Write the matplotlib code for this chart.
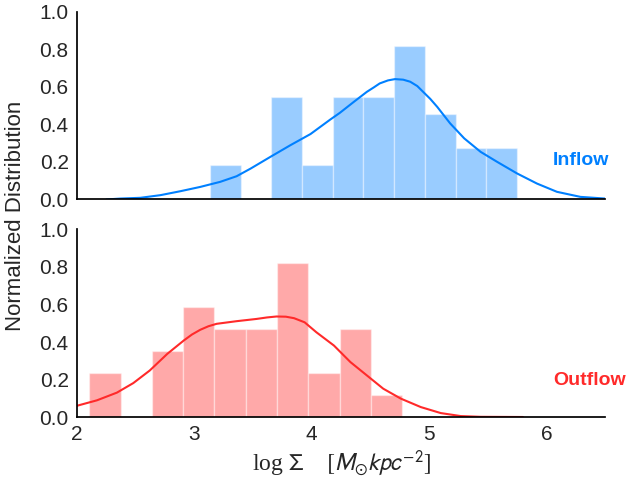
import numpy as np
import matplotlib.pyplot as plt
import seaborn as sns

sns.set_style('white')
plt.rcParams['font.family'] = ['Liberation Sans', 'DejaVu Sans']
plt.rcParams['mathtext.fontset'] = 'stixsans'

# histogram counts per bin and bin range (log surface density)
inflow_counts = [2, 0, 6, 2, 6, 6, 9, 5, 3, 3]
inflow_range = (3.134, 5.749)
outflow_counts = [2, 0, 3, 5, 4, 4, 7, 2, 4, 1]
outflow_range = (2.105, 4.772)

# kde curves as (x, density) pairs
inflow_kde_x = [2.25, 2.37, 2.54, 2.71, 2.88, 3.05, 3.22, 3.36, 3.48, 3.65,
                3.82, 3.99, 4.16, 4.24, 4.36, 4.47, 4.53, 4.58, 4.65, 4.71,
                4.78, 4.84, 4.90, 4.95, 5.01, 5.07, 5.18, 5.30, 5.44, 5.58,
                5.75, 5.92, 6.09, 6.29, 6.50]
inflow_kde_y = [0.0, 0.005, 0.009, 0.023, 0.044, 0.067, 0.094, 0.124, 0.165, 0.228,
                0.290, 0.349, 0.427, 0.462, 0.521, 0.574, 0.598, 0.619, 0.635, 0.642,
                0.639, 0.628, 0.605, 0.574, 0.537, 0.494, 0.406, 0.326, 0.254, 0.201,
                0.139, 0.085, 0.041, 0.014, 0.005]
outflow_kde_x = [2.0, 2.17, 2.34, 2.48, 2.62, 2.77, 2.91, 2.98, 3.05, 3.12,
                 3.19, 3.36, 3.53, 3.62, 3.70, 3.78, 3.85, 3.94, 4.04, 4.19,
                 4.33, 4.47, 4.61, 4.76, 4.93, 5.10, 5.27, 5.44, 5.80]
outflow_kde_y = [0.06, 0.089, 0.13, 0.181, 0.248, 0.337, 0.408, 0.440, 0.465, 0.484,
                 0.497, 0.511, 0.523, 0.531, 0.536, 0.535, 0.527, 0.505, 0.452, 0.381,
                 0.293, 0.222, 0.151, 0.098, 0.053, 0.021, 0.005, 0.001, 0.0]

blue = '#0080ff'
red = '#ff2a2a'

fig, (ax1, ax2) = plt.subplots(2, 1, figsize=(6.39, 4.91), dpi=100, sharex=True)
fig.subplots_adjust(left=0.1205, right=0.9468, top=0.9756, bottom=0.1507, hspace=0.16)


def draw_hist(ax, counts, rng, color):
    counts = np.array(counts, dtype=float)
    edges = np.linspace(rng[0], rng[1], len(counts) + 1)
    width = edges[1] - edges[0]
    heights = counts / (counts.sum() * width)
    ax.bar(edges[:-1], heights, width=width, align='edge', color=color,
           alpha=0.4, edgecolor='white', linewidth=1.0)


draw_hist(ax1, inflow_counts, inflow_range, blue)
ax1.plot(inflow_kde_x, inflow_kde_y, color=blue, lw=1.5, solid_joinstyle='round')
draw_hist(ax2, outflow_counts, outflow_range, red)
ax2.plot(outflow_kde_x, outflow_kde_y, color=red, lw=1.5, solid_joinstyle='round')

for ax in (ax1, ax2):
    ax.set_xlim(2, 6.5)
    ax.set_ylim(0, 1.0)
    ax.set_yticks([0, 0.2, 0.4, 0.6, 0.8, 1.0])
    ax.tick_params(labelsize=15, length=0, pad=6)
    for s in ('top', 'right'):
        ax.spines[s].set_visible(False)
    for s in ('left', 'bottom'):
        ax.spines[s].set_color('black')
        ax.spines[s].set_linewidth(1.25)

ax2.set_xticks([2, 3, 4, 5, 6])
ax1.tick_params(axis='x', labelbottom=False)

ax1.text(0.9015, 0.21, 'Inflow', transform=ax1.transAxes, color=blue,
         fontsize=14, fontweight='bold', va='center', ha='left')
ax2.text(0.9015, 0.197, 'Outflow', transform=ax2.transAxes, color=red,
         fontsize=14, fontweight='bold', va='center', ha='left')

ax2.set_xlabel(r'log $\Sigma$    $[M_{\odot} kpc^{-2}]$', fontsize=17,
               family='Liberation Serif', labelpad=3)
fig.text(0.024, 0.56, 'Normalized Distribution', rotation=90, fontsize=16,
         va='center', ha='center')

fig.savefig('out.png', dpi=100)
